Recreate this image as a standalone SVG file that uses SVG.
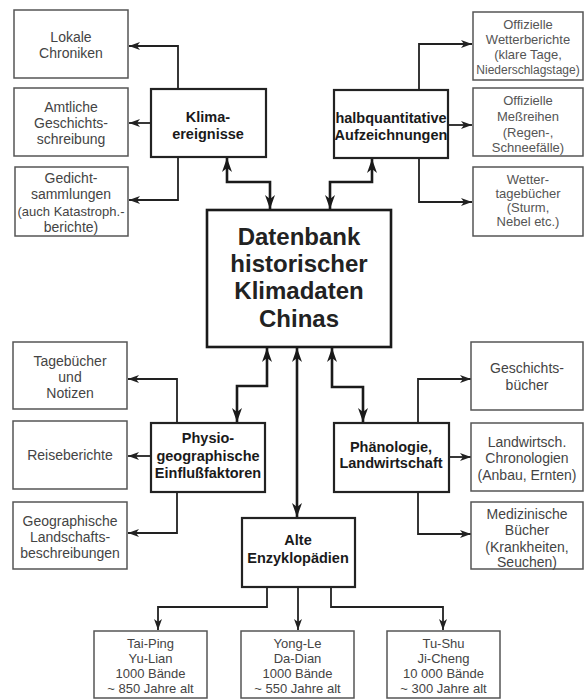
<svg xmlns="http://www.w3.org/2000/svg" width="584" height="700" viewBox="0 0 584 700">
<defs>
<marker id="a" markerUnits="userSpaceOnUse" viewBox="-12 -5 13 10" refX="0" refY="0" markerWidth="13" markerHeight="10" orient="auto-start-reverse">
<path d="M0,0 L-11,-4 L-8,0 L-11,4 Z" fill="#222"/>
</marker>
<marker id="b" markerUnits="userSpaceOnUse" viewBox="-15 -6 16 12" refX="0" refY="0" markerWidth="16" markerHeight="12" orient="auto-start-reverse">
<path d="M0,0 L-14,-5 L-10,0 L-14,5 Z" fill="#1a1a1a"/>
</marker>
</defs>
<style>
.o{fill:#fff;stroke:#555;stroke-width:1.5}
.c{fill:#fff;stroke:#222;stroke-width:2.2}
.m{fill:#fff;stroke:#1a1a1a;stroke-width:2.6}
text{font-family:"Liberation Sans",Arial,sans-serif;text-anchor:middle}
.t{font-size:14px;fill:#444}
.u{font-size:13px;fill:#444}
.s{font-size:13px;fill:#555}
.b{font-size:14.5px;font-weight:bold;fill:#1a1a1a}
.big{font-size:24px;font-weight:bold;fill:#222}
.l{fill:none;stroke:#222;stroke-width:1.8;marker-end:url(#a)}
.d{fill:none;stroke:#1a1a1a;stroke-width:2.6;marker-start:url(#b);marker-end:url(#b)}
</style>
<g id="connectors">
<path class="l" d="M178,89 V46 H129"/>
<path class="l" d="M151,123 H129"/>
<path class="l" d="M178,157 V200 H129"/>
<path class="l" d="M419,90 V44 H472"/>
<path class="l" d="M448,125 H472"/>
<path class="l" d="M419,158 V202 H472"/>
<path class="l" d="M177,423 V379 H128"/>
<path class="l" d="M151,456 H128"/>
<path class="l" d="M177,492 V533 H128"/>
<path class="l" d="M418,423 V379 H471"/>
<path class="l" d="M449,457 H471"/>
<path class="l" d="M418,492 V534 H471"/>
<path class="l" d="M267,587 V607 H158 V630"/>
<path class="l" d="M298,587 V630"/>
<path class="l" d="M331,587 V607 H443 V630"/>
<path class="d" d="M227,158 V182 H270 V209"/>
<path class="d" d="M372,159 V182 H330 V209"/>
<path class="d" d="M237,422 V386 H267 V348"/>
<path class="d" d="M332,348 V387 H363 V422"/>
<path class="d" d="M297,348 V517"/>
</g>
<g id="datenbank">
<rect class="m" x="207" y="210" width="184" height="137"/>
<text class="big" x="299" y="245">Datenbank</text>
<text class="big" x="299" y="272">historischer</text>
<text class="big" x="299" y="299">Klimadaten</text>
<text class="big" x="299" y="327">Chinas</text>
</g>
<g id="klima">
<rect class="c" x="151" y="89" width="115" height="68"/>
<text class="b" x="208" y="122">Klima-</text>
<text class="b" x="208" y="139">ereignisse</text>
</g>
<g id="halbquantitativ">
<rect class="c" x="334" y="90" width="114" height="68"/>
<text class="b" x="391" y="123">halbquantitative</text>
<text class="b" x="391" y="140">Aufzeichnungen</text>
</g>
<g id="physio">
<rect class="c" x="151" y="423" width="114" height="69"/>
<text class="b" x="208" y="443">Physio-</text>
<text class="b" x="208" y="461">geographische</text>
<text class="b" x="208" y="478">Einflußfaktoren</text>
</g>
<g id="phaenologie">
<rect class="c" x="334" y="423" width="115" height="69"/>
<text class="b" x="391" y="452">Phänologie,</text>
<text class="b" x="391" y="468">Landwirtschaft</text>
</g>
<g id="alte">
<rect class="c" x="242" y="518" width="113" height="69"/>
<text class="b" x="298" y="545">Alte</text>
<text class="b" x="298" y="563">Enzyklopädien</text>
</g>
<g id="lokale">
<rect class="o" x="14" y="10" width="114" height="68"/>
<text class="t" x="71" y="42">Lokale</text>
<text class="t" x="71" y="58">Chroniken</text>
</g>
<g id="amtliche">
<rect class="o" x="14" y="88" width="114" height="68"/>
<text class="t" x="71" y="112">Amtliche</text>
<text class="t" x="71" y="128">Geschichts-</text>
<text class="t" x="71" y="144">schreibung</text>
</g>
<g id="gedicht">
<rect class="o" x="15" y="167" width="113" height="69"/>
<text class="t" x="71" y="183">Gedicht-</text>
<text class="t" x="71" y="199">sammlungen</text>
<text class="u" x="71" y="216">(auch Katastroph.-</text>
<text class="t" x="71" y="232">berichte)</text>
</g>
<g id="wetterberichte">
<rect class="o" x="473" y="12" width="110" height="68"/>
<text class="s" x="528" y="29">Offizielle</text>
<text class="s" x="528" y="44">Wetterberichte</text>
<text class="s" x="528" y="59">(klare Tage,</text>
<text class="s" x="528" y="74" style="font-size:12px">Niederschlagstage)</text>
</g>
<g id="messreihen">
<rect class="o" x="473" y="88" width="110" height="68"/>
<text class="s" x="528" y="105">Offizielle</text>
<text class="s" x="528" y="121">Meßreihen</text>
<text class="s" x="528" y="137">(Regen-,</text>
<text class="s" x="528" y="152">Schneefälle)</text>
</g>
<g id="wettertagebuecher">
<rect class="o" x="473" y="167" width="110" height="69"/>
<text class="s" x="528" y="184">Wetter-</text>
<text class="s" x="528" y="198">tagebücher</text>
<text class="s" x="528" y="212">(Sturm,</text>
<text class="s" x="528" y="226">Nebel etc.)</text>
</g>
<g id="tagebuecher">
<rect class="o" x="13" y="342" width="114" height="67"/>
<text class="t" x="70" y="366">Tagebücher</text>
<text class="t" x="70" y="382">und</text>
<text class="t" x="70" y="398">Notizen</text>
</g>
<g id="reiseberichte">
<rect class="o" x="13" y="421" width="114" height="68"/>
<text class="t" x="70" y="460">Reiseberichte</text>
</g>
<g id="geographische">
<rect class="o" x="13" y="502" width="114" height="67"/>
<text class="t" x="70" y="526">Geographische</text>
<text class="t" x="70" y="542">Landschafts-</text>
<text class="t" x="70" y="558">beschreibungen</text>
</g>
<g id="geschichtsbuecher">
<rect class="o" x="471" y="342" width="112" height="68"/>
<text class="t" x="527" y="373">Geschichts-</text>
<text class="t" x="527" y="390">bücher</text>
</g>
<g id="landwirtsch">
<rect class="o" x="471" y="423" width="112" height="68"/>
<text class="t" x="527" y="447">Landwirtsch.</text>
<text class="t" x="527" y="463">Chronologien</text>
<text class="t" x="527" y="480">(Anbau, Ernten)</text>
</g>
<g id="medizinische">
<rect class="o" x="471" y="502" width="112" height="67"/>
<text class="t" x="527" y="519">Medizinische</text>
<text class="t" x="527" y="535">Bücher</text>
<text class="t" x="527" y="552">(Krankheiten,</text>
<text class="t" x="527" y="567">Seuchen)</text>
</g>
<g id="taiping">
<rect class="o" x="94" y="631" width="113" height="67"/>
<text class="u" x="150.5" y="648">Tai-Ping</text>
<text class="u" x="150.5" y="663">Yu-Lian</text>
<text class="u" x="150.5" y="678">1000 Bände</text>
<text class="u" x="150.5" y="693">~ 850 Jahre alt</text>
</g>
<g id="yongle">
<rect class="o" x="241" y="631" width="113" height="67"/>
<text class="u" x="297.5" y="648">Yong-Le</text>
<text class="u" x="297.5" y="663">Da-Dian</text>
<text class="u" x="297.5" y="678">1000 Bände</text>
<text class="u" x="297.5" y="693">~ 550 Jahre alt</text>
</g>
<g id="tushu">
<rect class="o" x="387" y="631" width="113" height="67"/>
<text class="u" x="443.5" y="648">Tu-Shu</text>
<text class="u" x="443.5" y="663">Ji-Cheng</text>
<text class="u" x="443.5" y="678">10 000 Bände</text>
<text class="u" x="443.5" y="693">~ 300 Jahre alt</text>
</g>
</svg>
